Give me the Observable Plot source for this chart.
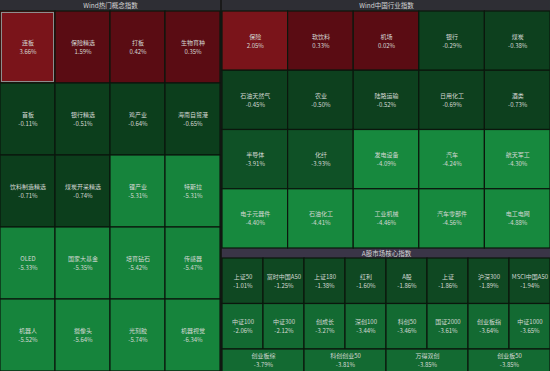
<!DOCTYPE html>
<html><head><meta charset="utf-8">
<script src="https://cdn.jsdelivr.net/npm/d3@7"></script>
<script src="https://cdn.jsdelivr.net/npm/@observablehq/plot@0.6"></script>
<style>
html,body{margin:0;padding:0;background:#1a1a1a;}
</style></head><body><div id="chart"></div>
<script>
// ---- data ----
const conceptTitle = "Wind热门概念指数";
const conceptNames = ["连板","保险精选","打板","生物育种","首板","银行精选","鸡产业","海南自贸港","饮料制造精选","煤炭开采精选","锂产业","特斯拉","OLED","国家大基金","培育钻石","传感器","机器人","摄像头","光刻胶","机器视觉"];
const conceptValues = [3.66,1.59,0.42,0.35,-0.11,-0.51,-0.64,-0.65,-0.71,-0.74,-5.31,-5.31,-5.33,-5.35,-5.42,-5.47,-5.52,-5.64,-5.74,-6.34];

const industryTitle = "Wind中国行业指数";
const industryNames = ["保险","软饮料","机场","银行","煤炭","石油天然气","农业","陆路运输","日用化工","酒类","半导体","化纤","发电设备","汽车","航天军工","电子元器件","石油化工","工业机械","汽车零部件","电工电网"];
const industryValues = [2.05,0.33,0.02,-0.29,-0.38,-0.45,-0.50,-0.52,-0.69,-0.73,-3.91,-3.93,-4.09,-4.24,-4.30,-4.40,-4.41,-4.46,-4.56,-4.88];

const coreTitle = "A股市场核心指数";
const coreNames = ["上证50","富时中国A50","上证180","红利","A股","上证","沪深300","MSCI中国A50","中证100","中证300","创成长","深创100","科创50","国证2000","创业板指","中证1000","创业板综","科创创业50","万得双创","创业板50"];
const coreValues = [-1.01,-1.25,-1.38,-1.60,-1.86,-1.86,-1.89,-1.94,-2.06,-2.12,-3.27,-3.44,-3.46,-3.61,-3.64,-3.65,-3.79,-3.81,-3.85,-3.85];

const selectedName = "连板";

// ---- colours ----
function tileColor(panel, v) {
  if (v >= 2) return "#7a141a";
  if (v >= 0) return "#5a0c13";
  if (panel === "concept") return v > -1 ? "#0c3e1c" : "#16843c";
  if (panel === "industry") return v > -1 ? "#0d401e" : v > -4 ? "#0f5126" : "#17893e";
  return v > -2 ? "#0f4822" : "#136a32";
}

// ---- layout (grid of equal tiles, positions derived from order) ----
const W = 550, H = 371;
const panels = [
  {key:"concept", title:conceptTitle, names:conceptNames, values:conceptValues,
   x0:0, x1:220, y0:0, head:11, rowH:72, cols:[4,4,4,4,4], headFill:"#2e2e34"},
  {key:"industry", title:industryTitle, names:industryNames, values:industryValues,
   x0:222, x1:550, y0:0, head:11, rowH:59.25, cols:[5,5,5,5], headFill:"#2e2e34"},
  {key:"core", title:coreTitle, names:coreNames, values:coreValues,
   x0:222, x1:550, y0:248, head:10, rowH:45.5, cols:[8,8,4], headFill:"#3a3547"}
];
const headers = [], tiles = [];
for (const p of panels) {
  headers.push({x1:p.x0, x2:p.x1, y1:p.y0, y2:p.y0 + p.head, title:p.title, fill:p.headFill});
  let i = 0;
  p.cols.forEach((n, r) => {
    const w = (p.x1 - p.x0) / n;
    const y1 = p.y0 + p.head + r * p.rowH, y2 = y1 + p.rowH;
    for (let c = 0; c < n; c++, i++) {
      const v = p.values[i];
      tiles.push({
        name: p.names[i], value: v,
        x1: p.x0 + c * w, x2: p.x0 + (c + 1) * w, y1, y2,
        cx: p.x0 + (c + 0.5) * w, cy: (y1 + Math.min(y2, H)) / 2,
        fill: tileColor(p.key, v), selected: p.names[i] === selectedName && p.key === "concept"
      });
    }
  });
}

const font = "'Noto Sans CJK SC','Noto Sans',sans-serif";
const chart = Plot.plot({
  width: W, height: H, margin: 0,
  x: {type: "identity", axis: null},
  y: {type: "identity", axis: null},
  style: {background: "#1a1a1a", fontFamily: font},
  marks: [
    Plot.rect(headers, {x1:"x1", x2:"x2", y1:"y1", y2:"y2", fill:"fill"}),
    Plot.text(headers, {x: d => (d.x1 + d.x2) / 2, y: d => (d.y1 + d.y2) / 2, text:"title", fill:"#d6d6d6", fontSize:6.5}),
    Plot.rect(tiles, {x1:"x1", x2:"x2", y1:"y1", y2:"y2", fill:"fill", stroke:"#0b170d", strokeWidth:1.2}),
    Plot.rect(tiles.filter(d => d.selected), {x1:"x1", x2:"x2", y1:"y1", y2:"y2", fill:"none", stroke:"#8e8e8e", strokeWidth:1, inset:1.5}),
    Plot.text(tiles, {x:"cx", y:"cy", text:"name", dy:-4.5, fill:"#d4d8d4", fontSize:6}),
    Plot.text(tiles, {x:"cx", y:"cy", text: d => d.value.toFixed(2) + "%", dy:4.5, fill:"#d4d8d4", fontSize:6})
  ]
});
document.getElementById("chart").appendChild(chart);
</script>
</body></html>
